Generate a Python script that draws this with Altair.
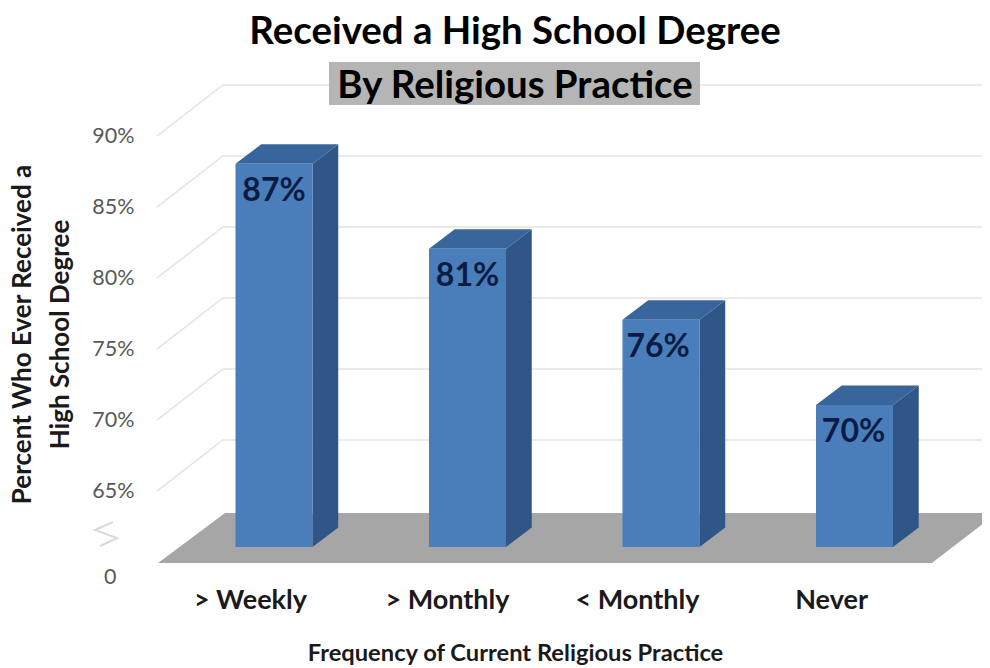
import json
import altair as alt
import pandas as pd

FONT = "Lato"

# --- chart values ---
categories = ["> Weekly", "> Monthly", "< Monthly", "Never"]
percents = [87, 81, 76, 70]
bar_labels = ["87%", "81%", "76%", "70%"]
label_nudge = [0.0, 0.0, -0.015, -0.005]
grid_levels = [65, 70, 75, 80, 85, 90]

# --- perspective, in data units (x: category index, y: percent) ---
BASE = 60.0
HALF = 0.199
DEPTH_X = 0.133
DEPTH_Y = 1.37
GRID_FRONT_X, GRID_BACK_X, RIGHT_X = -0.605, -0.264, 3.659
GRID_FRONT_Y, GRID_BACK_Y = -1.06, 2.54
X_DOMAIN = [-1.3747, 3.659]
Y_DOMAIN = [51.48, 97.96]

floor_x = [-0.599, -0.253, 3.40, 3.659]
floor_y = [58.87, 62.39, 62.39, 62.39]
floor_y2 = [58.87, 58.87, 58.87, 61.58]
squiggle_x = [-0.832, -0.925, -0.811, -0.898]
squiggle_y = [61.76, 61.2, 60.63, 60.07]
xtick_pos = [-0.124, 0.894, 1.876, 2.879]
ytick_pos = [57.82] + [g + GRID_FRONT_Y for g in grid_levels]

xlabel_expr = json.dumps(categories) + "[round(datum.value)]"
ylabel_expr = ("datum.value < 60 ? '0' : "
               "format(round(datum.value + 1.06), 'd') + '%'")

x_axis = alt.Axis(
    values=xtick_pos, labelExpr=xlabel_expr, orient="bottom",
    domain=False, ticks=False, grid=False, offset=-81, labelPadding=0,
    labelFont=FONT, labelFontSize=27, labelFontWeight="bold",
    labelColor="#1a1a1a", labelOverlap=False, labelFlush=False,
    title="Frequency of Current Religious Practice",
    titleFont=FONT, titleFontSize=23.7, titleFontWeight="bold",
    titleColor="#1a1a1a", titlePadding=28, titleX=507,
)
y_axis = alt.Axis(
    values=ytick_pos, labelExpr=ylabel_expr, orient="left",
    domain=False, ticks=False, grid=False, offset=-126,
    labelPadding={"condition": {"test": "datum.value < 60", "value": 18}, "value": 0},
    labelFont=FONT, labelFontSize=21.5, labelColor="#595959",
    labelOverlap=False, labelFlush=False,
    title=["Percent Who Ever Received a", "High School Degree"],
    titleFont=FONT, titleFontSize=26, titleFontWeight="bold",
    titleColor="#1a1a1a", titleLineHeight=38, titleX=-99, titleY=326,
)

x_scale = alt.Scale(domain=X_DOMAIN, nice=False, zero=False)
y_scale = alt.Scale(domain=Y_DOMAIN, nice=False, zero=False)
X = alt.X("x:Q", scale=x_scale, axis=x_axis)
Y = alt.Y("y:Q", scale=y_scale, axis=y_axis, stack=None)

front = pd.DataFrame({
    "cat": categories,
    "x": [i - HALF for i in range(4)],
    "x2": [i + HALF for i in range(4)],
    "y": percents,
    "y2": [BASE] * 4,
})

side_rows, top_rows = [], []
for i, p in enumerate(percents):
    l, r = i - HALF, i + HALF
    side_rows += [
        {"bar": i, "x": r, "y": p, "y2": BASE},
        {"bar": i, "x": r + DEPTH_X, "y": p + DEPTH_Y, "y2": BASE + DEPTH_Y},
    ]
    top_rows += [
        {"bar": i, "x": l, "y": p, "y2": p},
        {"bar": i, "x": l + DEPTH_X, "y": p + DEPTH_Y, "y2": p},
        {"bar": i, "x": r, "y": p + DEPTH_Y, "y2": p},
        {"bar": i, "x": r + DEPTH_X, "y": p + DEPTH_Y, "y2": p + DEPTH_Y},
    ]

grid_rows = []
for g in grid_levels:
    grid_rows += [
        {"level": g, "o": 0, "x": GRID_FRONT_X, "y": g + GRID_FRONT_Y},
        {"level": g, "o": 1, "x": GRID_BACK_X, "y": g + GRID_BACK_Y},
        {"level": g, "o": 2, "x": RIGHT_X, "y": g + GRID_BACK_Y},
    ]

grid = alt.Chart(pd.DataFrame(grid_rows)).mark_line(
    color="#e4e4e4", strokeWidth=1.6
).encode(x=X, y=Y, detail="level:N", order="o:Q")

floor = alt.Chart(pd.DataFrame({"x": floor_x, "y": floor_y, "y2": floor_y2})).mark_area(
    color="#a6a6a6", orient="vertical", opacity=1
).encode(x=X, y=Y, y2="y2:Q")

squiggle = alt.Chart(pd.DataFrame({"x": squiggle_x, "y": squiggle_y, "o": range(4)})).mark_line(
    color="#d9d9d9", strokeWidth=2
).encode(x=X, y=Y, order="o:Q")

side = alt.Chart(pd.DataFrame(side_rows)).mark_area(
    color="#2f5686", orient="vertical", opacity=1
).encode(x=X, y=Y, y2="y2:Q", detail="bar:N")

top = alt.Chart(pd.DataFrame(top_rows)).mark_area(
    color="#38659b", orient="vertical", opacity=1
).encode(x=X, y=Y, y2="y2:Q", detail="bar:N")

bars = alt.Chart(front).mark_rect(color="#4a7ebb").encode(
    x=X, x2="x2:Q", y=Y, y2="y2:Q"
)

text_df = pd.DataFrame({
    "x": [i + n for i, n in enumerate(label_nudge)],
    "y": percents,
    "label": bar_labels,
})
labels = alt.Chart(text_df).mark_text(
    font=FONT, fontSize=32, fontWeight="bold", color="#0a1c44",
    dy=27, align="center", baseline="middle"
).encode(x=X, y=Y, text="label:N")

box = alt.Chart(pd.DataFrame({"a": [1]})).mark_rect(color="#b5b5b5").encode(
    x=alt.value(321), x2=alt.value(692), y=alt.value(54), y2=alt.value(97)
)

chart = alt.layer(
    grid, floor, squiggle, box, side, top, bars, labels
).properties(
    width=974, height=660, padding=0, autosize=alt.AutoSizeParams(type="none"),
    title=alt.TitleParams(
        text="Received a High School Degree",
        subtitle="By Religious Practice",
        anchor="middle", frame="group", dx=20, offset=-98,
        font=FONT, fontSize=38.4, fontWeight="bold", color="#000000",
        subtitleFont=FONT, subtitleFontSize=38.4, subtitleFontWeight="bold",
        subtitleColor="#000000", subtitlePadding=15,
    ),
).configure_view(stroke=None)

chart.save("out.html", embed_options={"renderer": "svg", "actions": False})
